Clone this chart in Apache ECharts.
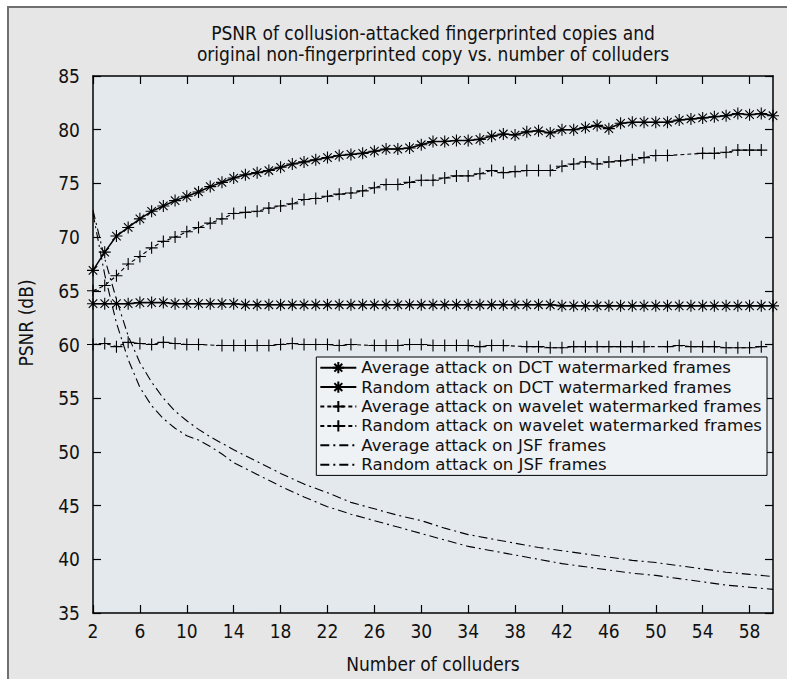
<!DOCTYPE html>
<html>
<head>
<meta charset="utf-8">
<script src="https://cdn.jsdelivr.net/npm/echarts@6/dist/echarts.min.js"></script>
<style>
html,body{margin:0;padding:0;background:#fff;}
#c{width:787px;height:679px;}
</style>
</head>
<body>
<div id="c"></div>
<script>
// ---------- data ----------
const colluders = [2,3,4,5,6,7,8,9,10,11,12,13,14,15,16,17,18,19,20,21,22,23,24,25,26,27,28,29,30,31,32,33,34,35,36,37,38,39,40,41,42,43,44,45,46,47,48,49,50,51,52,53,54,55,56,57,58,59,60];
const dctAverage = [66.9,68.6,70.1,70.9,71.7,72.4,72.9,73.4,73.8,74.2,74.7,75.1,75.5,75.8,76.0,76.2,76.5,76.8,77.0,77.2,77.4,77.6,77.7,77.8,78.0,78.2,78.2,78.3,78.6,78.9,78.9,79.0,79.0,79.1,79.4,79.6,79.5,79.8,79.9,79.7,80.0,80.0,80.2,80.4,80.1,80.6,80.7,80.7,80.7,80.7,80.9,81.0,81.1,81.2,81.3,81.5,81.4,81.5,81.3];
const dctRandom = [63.8,63.8,63.8,63.8,63.9,63.9,63.9,63.8,63.8,63.8,63.8,63.8,63.8,63.7,63.7,63.7,63.7,63.7,63.7,63.7,63.7,63.7,63.7,63.7,63.7,63.7,63.7,63.7,63.7,63.7,63.7,63.7,63.7,63.7,63.7,63.7,63.7,63.7,63.7,63.7,63.6,63.6,63.6,63.6,63.6,63.6,63.6,63.6,63.6,63.6,63.6,63.6,63.6,63.6,63.6,63.6,63.6,63.6,63.6];
const waveletAverage = [65.0,65.5,66.4,67.5,68.2,69.0,69.6,70.0,70.5,70.9,71.3,71.7,72.2,72.3,72.4,72.7,72.9,73.1,73.5,73.6,73.8,74.0,74.1,74.3,74.6,74.9,74.9,75.1,75.3,75.3,75.5,75.7,75.7,75.9,76.2,76.0,76.1,76.2,76.2,76.2,76.6,76.8,77.0,76.8,77.0,77.1,77.2,77.4,77.6,77.6,null,null,77.8,77.8,77.9,78.1,78.1,78.1,null];
const waveletRandom = [60.0,60.1,59.8,60.2,60.1,60.0,60.2,60.1,60.0,60.0,null,59.9,59.9,59.9,59.9,59.9,60.0,60.1,60.0,60.0,60.0,59.9,60.0,null,59.9,59.9,59.9,60.0,60.0,59.9,59.9,59.9,59.9,59.8,59.9,59.9,null,59.8,59.8,59.7,59.7,59.8,59.8,59.8,59.8,59.8,59.8,59.8,null,59.8,59.9,59.8,59.8,59.8,59.7,59.7,59.7,59.8,null];
const jsfColluders = [2,3,4,5,6,7,8,9,10,11,12,13,14,16,18,20,22,24,26,28,30,32,34,36,38,40,42,44,46,48,50,52,54,56,58,60];
const jsfAverage = [72.5,68.0,64.2,60.8,58.3,56.5,55.0,53.8,52.9,52.1,51.4,50.8,50.2,49.1,48.0,47.0,46.2,45.3,44.7,44.1,43.6,42.9,42.3,41.9,41.5,41.1,40.8,40.5,40.2,39.9,39.7,39.4,39.1,38.8,38.6,38.4];
const jsfRandom = [72.2,66.5,62.0,58.6,56.0,54.3,53.1,52.2,51.5,51.1,50.5,49.8,49.0,47.9,46.8,45.8,44.9,44.2,43.6,43.0,42.4,41.8,41.2,40.8,40.4,40.0,39.6,39.3,39.0,38.7,38.5,38.2,37.9,37.6,37.4,37.2];
const seriesNames = ['Average attack on DCT watermarked frames','Random attack on DCT watermarked frames','Average attack on wavelet watermarked frames','Random attack on wavelet watermarked frames','Average attack on JSF frames','Random attack on JSF frames'];
const xTickLabels = [2,6,10,14,18,22,26,30,34,38,42,46,50,54,58];
const yTickLabels = [35,40,45,50,55,60,65,70,75,80,85];
const titleLines = ['PSNR of collusion-attacked fingerprinted copies and','original non-fingerprinted copy vs. number of colluders'];
const xAxisTitle = 'Number of colluders';
const yAxisTitle = 'PSNR (dB)';

// ---------- styling ----------
const narrow = '"Liberation Sans Narrow","DejaVu Sans Condensed","Roboto Condensed","Noto Sans",sans-serif';
const legendFont = '"DejaVu Sans",sans-serif';
const STAR = 'path://M0,-10L0,10M-10,0L10,0M-7.07,-7.07L7.07,7.07M-7.07,7.07L7.07,-7.07';
const PLUS = 'path://M0,-10L0,10M-10,0L10,0';

function pairs(xs, ys){ return xs.map((x,i)=>[x, ys[i]]); }

function mkSeries(name, data, symbol, lineType, lineWidth){
  const noMark = symbol === null;
  return {
    name: name, type: 'line', data: data,
    xAxisIndex: 0, yAxisIndex: 0,
    symbol: noMark ? 'circle' : symbol,
    symbolSize: 12,
    showSymbol: !noMark,
    connectNulls: true,
    animation: false,
    lineStyle: {color:'#000', width: lineWidth, type: lineType},
    itemStyle: noMark ? {color:'rgba(0,0,0,0)', borderColor:'rgba(0,0,0,0)', borderWidth:0}
                      : {color:'#000', borderColor:'#000', borderWidth: 1.1},
    emphasis: {disabled: true}
  };
}

const chart = echarts.init(document.getElementById('c'), null, {renderer:'svg'});
const axisCommon = {
  type:'value',
  axisLine:{show:true, onZero:false, lineStyle:{color:'#000', width:1.5}},
  splitLine:{show:false},
  axisTick:{show:true, inside:true, length:8, lineStyle:{color:'#000', width:1.2}}
};
chart.setOption({
  animation:false,
  backgroundColor:'#ffffff',
  graphic:[
    {type:'rect', z:-100, shape:{x:8, y:7, width:800, height:700}, style:{fill:'#e6e6e6', stroke:'#707070', lineWidth:2}},
    {type:'text', x:433, y:33, style:{text:titleLines[0], font:'19px '+narrow, fill:'#111', textAlign:'center', textVerticalAlign:'middle'}},
    {type:'text', x:433, y:54, style:{text:titleLines[1], font:'19px '+narrow, fill:'#111', textAlign:'center', textVerticalAlign:'middle'}},
    {type:'text', x:433, y:664, style:{text:xAxisTitle, font:'19px '+narrow, fill:'#111', textAlign:'center', textVerticalAlign:'middle'}},
    {type:'text', x:26, y:323, rotation:Math.PI/2, style:{text:yAxisTitle, font:'19px '+narrow, fill:'#111', textAlign:'center', textVerticalAlign:'middle'}}
  ],
  grid:{left:93, right:14, top:76, bottom:66, show:true, backgroundColor:'#e4e9ee', borderWidth:0},
  xAxis:[
    Object.assign({}, axisCommon, {position:'bottom', min:2, max:60, interval:2,
      axisTick:Object.assign({}, axisCommon.axisTick, {customValues:xTickLabels}),
      axisLabel:{show:true, customValues:xTickLabels, margin:8, color:'#111', fontSize:19, fontFamily:narrow}}),
    Object.assign({}, axisCommon, {position:'top', min:2, max:60, interval:2,
      axisTick:Object.assign({}, axisCommon.axisTick, {customValues:xTickLabels}),
      axisLabel:{show:false}})
  ],
  yAxis:[
    Object.assign({}, axisCommon, {position:'left', min:35, max:85, interval:5,
      axisTick:Object.assign({}, axisCommon.axisTick, {customValues:yTickLabels}),
      axisLabel:{show:true, customValues:yTickLabels, margin:13, color:'#111', fontSize:19, fontFamily:narrow}}),
    Object.assign({}, axisCommon, {position:'right', min:35, max:85, interval:5,
      axisTick:Object.assign({}, axisCommon.axisTick, {customValues:yTickLabels}),
      axisLabel:{show:false}})
  ],
  legend:{
    orient:'vertical', right:20, top:357,
    data:seriesNames,
    itemWidth:36, itemHeight:14, itemGap:0,
    padding:[1,5,1,3],
    backgroundColor:'#eff2f5', borderColor:'#000', borderWidth:1,
    textStyle:{fontFamily:legendFont, fontSize:16.6, color:'#111', lineHeight:19.4},
    selectedMode:false
  },
  series:[
    mkSeries(seriesNames[0], pairs(colluders, dctAverage), STAR, 'solid', 1.5),
    mkSeries(seriesNames[1], pairs(colluders, dctRandom), STAR, 'solid', 1.5),
    mkSeries(seriesNames[2], pairs(colluders, waveletAverage), PLUS, [4,3], 1.1),
    mkSeries(seriesNames[3], pairs(colluders, waveletRandom), PLUS, [4,3], 1.1),
    mkSeries(seriesNames[4], pairs(jsfColluders, jsfAverage), null, [9,4,2,4], 1.1),
    mkSeries(seriesNames[5], pairs(jsfColluders, jsfRandom), null, [9,4,2,4], 1.1)
  ]
});
</script>
</body>
</html>
